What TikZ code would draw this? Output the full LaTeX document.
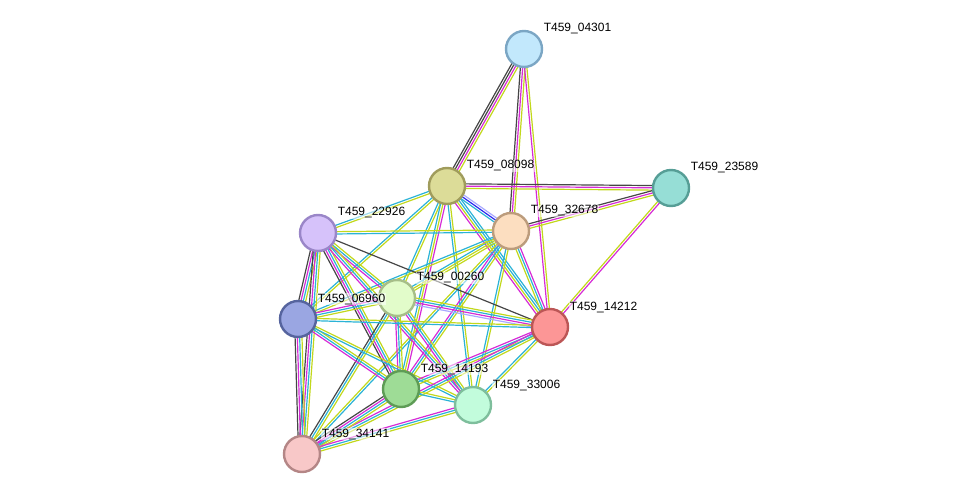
\documentclass[tikz,border=0pt]{standalone}
\usepackage{fontspec}
\setmainfont{Liberation Sans}
\usetikzlibrary{calc, backgrounds}
\usepackage{xcolor}
% evidence colours
\definecolor{kk}{HTML}{464646}
\definecolor{mm}{HTML}{D62BD6}
\definecolor{yy}{HTML}{C2D81C}
\definecolor{cc}{HTML}{2BB3D6}
\definecolor{bb}{HTML}{2A2AF0}
\definecolor{ll}{HTML}{A8A8FF}
% protein colours
\definecolor{fa}{HTML}{C2E8FC}\definecolor{da}{HTML}{7BA6C4}
\definecolor{fb}{HTML}{DCDC98}\definecolor{db}{HTML}{A09C5C}
\definecolor{fc}{HTML}{96DED6}\definecolor{dc}{HTML}{569E96}
\definecolor{fd}{HTML}{FCDEC0}\definecolor{dd}{HTML}{BC9C7C}
\definecolor{fe}{HTML}{D6C2FA}\definecolor{de}{HTML}{9A86C8}
\definecolor{ff}{HTML}{E2FCCA}\definecolor{df}{HTML}{A6BE88}
\definecolor{fg}{HTML}{9AA6E2}\definecolor{dg}{HTML}{56649E}
\definecolor{fh}{HTML}{FC9696}\definecolor{dh}{HTML}{BC5656}
\definecolor{fi}{HTML}{9EDC96}\definecolor{di}{HTML}{5E9C56}
\definecolor{fj}{HTML}{C2FCDC}\definecolor{dj}{HTML}{7EBE9C}
\definecolor{fk}{HTML}{F8C8C8}\definecolor{dk}{HTML}{B48686}

% bundle of parallel evidence lines between two nodes
\newcommand{\link}[3]{%
  \foreach \ecol [count=\nn] in {#3} {\xdef\nlines{\nn}}%
  \foreach \ecol [count=\i] in {#3} {%
    \pgfmathsetmacro{\off}{(\i-(\nlines+1)/2)*2.3}%
    \draw[evid, \ecol] ($(#1)!\off pt!90:(#2)$) -- ($(#2)!\off pt!-90:(#1)$);
  }}

\begin{document}
\begin{tikzpicture}[x=1pt, y=-1pt, font=\fontsize{12}{14}\selectfont,
    prot/.style 2 args={circle, minimum size=36pt, inner sep=0pt, line width=2.4pt, fill=#1, draw=#2},
    tag/.style={anchor=west, inner sep=0.6pt, fill=white, fill opacity=0.55, text opacity=1},
    evid/.style={line width=1.2pt},
    ek/.style={draw=kk}, em/.style={draw=mm}, ey/.style={draw=yy},
    ec/.style={draw=cc}, eb/.style={draw=bb}, el/.style={draw=ll}]
  \useasboundingbox (0,0) rectangle (976,500);

  % proteins
  \node[prot={fa}{da}] (n04301) at (524,49) {};
  \node[prot={fb}{db}] (n08098) at (447,186) {};
  \node[prot={fc}{dc}] (n23589) at (671,188) {};
  \node[prot={fd}{dd}] (n32678) at (511,231) {};
  \node[prot={fe}{de}] (n22926) at (318,233) {};
  \node[prot={ff}{df}] (n00260) at (397,298) {};
  \node[prot={fg}{dg}] (n06960) at (298,319) {};
  \node[prot={fh}{dh}] (n14212) at (550,327) {};
  \node[prot={fi}{di}] (n14193) at (401,389) {};
  \node[prot={fj}{dj}] (n33006) at (473,405) {};
  \node[prot={fk}{dk}] (n34141) at (302,454) {};

  % names
  \node[tag] (t04301) at ([shift={(19,-20)}]n04301.center) {T459\_04301};
  \node[tag] (t08098) at ([shift={(19,-20)}]n08098.center) {T459\_08098};
  \node[tag] (t23589) at ([shift={(19,-20)}]n23589.center) {T459\_23589};
  \node[tag] (t32678) at ([shift={(19,-20)}]n32678.center) {T459\_32678};
  \node[tag] (t22926) at ([shift={(19,-20)}]n22926.center) {T459\_22926};
  \node[tag] (t00260) at ([shift={(19,-20)}]n00260.center) {T459\_00260};
  \node[tag] (t06960) at ([shift={(19,-20)}]n06960.center) {T459\_06960};
  \node[tag] (t14212) at ([shift={(19,-20)}]n14212.center) {T459\_14212};
  \node[tag] (t14193) at ([shift={(19,-20)}]n14193.center) {T459\_14193};
  \node[tag] (t33006) at ([shift={(19,-20)}]n33006.center) {T459\_33006};
  \node[tag] (t34141) at ([shift={(19,-20)}]n34141.center) {T459\_34141};

  \begin{pgfonlayer}{background}
    \link{n04301}{n08098}{ek,ek,em,ey}
    \link{n04301}{n32678}{ek,em,ey}
    \link{n04301}{n14212}{em,ey}
    \link{n08098}{n23589}{ey,em,ek}
    \link{n08098}{n32678}{ec,eb,el}
    \link{n08098}{n22926}{ec,ey}
    \link{n08098}{n00260}{ec,ey}
    \link{n08098}{n06960}{ec,ey}
    \link{n08098}{n14193}{ec,ey,em}
    \link{n08098}{n33006}{ec,ey}
    \link{n08098}{n14212}{em,ey,ec,ec}
    \link{n23589}{n32678}{ek,em,ey}
    \link{n23589}{n14212}{ey,em}
    \link{n32678}{n22926}{ey,ec}
    \link{n32678}{n00260}{ec,ey,ey}
    \link{n32678}{n06960}{ec,ey}
    \link{n32678}{n14212}{ey,ec,em}
    \link{n32678}{n14193}{em,ec,ey}
    \link{n32678}{n33006}{ec,ey}
    \link{n32678}{n34141}{ey,ec}
    \link{n22926}{n00260}{em,ec,ey}
    \link{n22926}{n06960}{ek,em,ec,ey}
    \link{n22926}{n14212}{ek}
    \link{n22926}{n14193}{ek,em,ec,ey}
    \link{n22926}{n33006}{em,ec,ey}
    \link{n22926}{n34141}{ek,em,ec,ey}
    \link{n00260}{n06960}{em,ec,ey}
    \link{n00260}{n14212}{el,em,ec,ey}
    \link{n00260}{n14193}{em,ec,ey}
    \link{n00260}{n33006}{em,ec,ey}
    \link{n00260}{n34141}{ek,ec,ey}
    \link{n06960}{n14212}{ec,ey}
    \link{n06960}{n14193}{em,ec,ey}
    \link{n06960}{n33006}{ec,ey}
    \link{n06960}{n34141}{ek,em,ec,ey}
    \link{n14212}{n14193}{em,ec,ey}
    \link{n14212}{n33006}{ec,ey}
    \link{n14212}{n34141}{em,ec,ey}
    \link{n14193}{n33006}{ec,ey}
    \link{n14193}{n34141}{ek,em,ec,ey}
    \link{n33006}{n34141}{em,ec,ey}
  \end{pgfonlayer}
\end{tikzpicture}
\end{document}
